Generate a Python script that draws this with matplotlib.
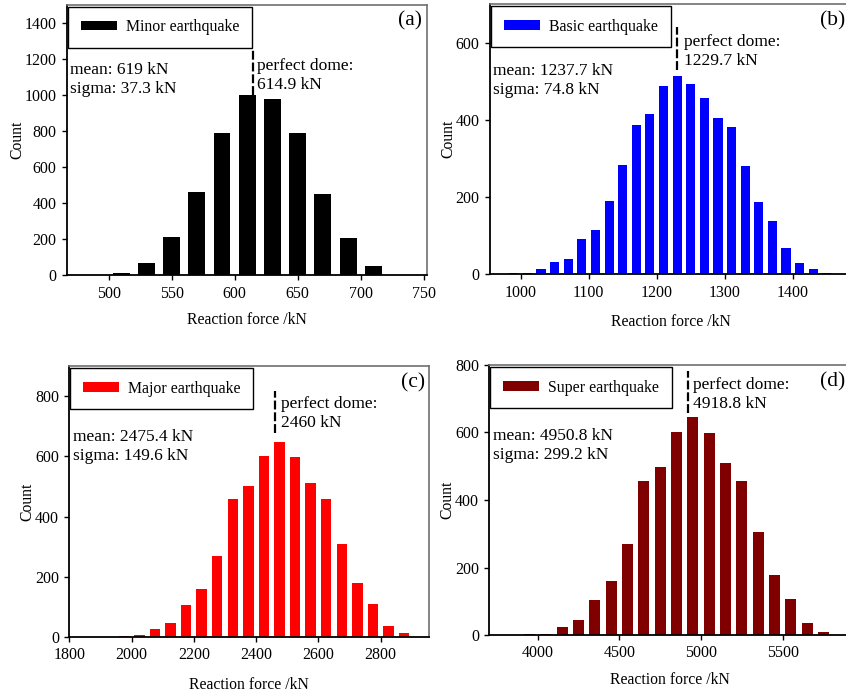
import matplotlib
matplotlib.use("Agg")
import matplotlib.pyplot as plt

plt.rcParams['font.family'] = ['Liberation Serif', 'DejaVu Serif']

# ---- histogram data (bin centres in kN, counts) ----
minor_centers = [490, 510, 530, 550, 570, 590, 610, 630, 650, 670, 690, 710, 730]
minor_counts = [0, 15, 68, 212, 460, 787, 1000, 977, 787, 449, 205, 51, 0]

basic_centers = [990, 1010, 1030, 1050, 1070, 1090, 1110, 1130, 1150, 1170, 1190, 1210,
                 1230, 1250, 1270, 1290, 1310, 1330, 1350, 1370, 1390, 1410, 1430, 1450]
basic_counts = [3, 3, 15, 31, 40, 91, 115, 189, 283, 386, 415, 488,
                513, 493, 457, 404, 381, 280, 186, 137, 68, 28, 15, 3]

major_centers = [1975, 2025, 2075, 2125, 2175, 2225, 2275, 2325, 2375, 2425,
                 2475, 2525, 2575, 2625, 2675, 2725, 2775, 2825, 2875]
major_counts = [2, 5, 25, 45, 106, 161, 269, 458, 500, 602,
                646, 597, 511, 458, 308, 180, 111, 35, 13]

super_centers = [3950, 4050, 4150, 4250, 4350, 4450, 4550, 4650, 4750, 4850,
                 4950, 5050, 5150, 5250, 5350, 5450, 5550, 5650, 5750]
super_counts = [2, 4, 24, 43, 104, 160, 269, 456, 499, 602,
                646, 598, 509, 456, 306, 178, 108, 35, 10]

labels = ["Minor earthquake", "Basic earthquake", "Major earthquake", "Super earthquake"]
tags = ["(a)", "(b)", "(c)", "(d)"]
colors = ["#000000", "#0000FF", "#FF0000", "#800000"]
bin_widths = [20, 20, 50, 100]

mean_txt = ["619", "1237.7", "2475.4", "4950.8"]
sigma_txt = ["37.3", "74.8", "149.6", "299.2"]
dome = [614.9, 1229.7, 2460, 4918.8]
dome_txt = ["614.9", "1229.7", "2460", "4918.8"]

xlims = [(467, 752.6), (955, 1487), (1800, 2955), (3704, 5912)]
ylims = [(0, 1500), (0, 700), (0, 900), (0, 800)]
xticks = [[500, 550, 600, 650, 700, 750], [1000, 1100, 1200, 1300, 1400],
          [1800, 2000, 2200, 2400, 2600, 2800], [4000, 4500, 5000, 5500]]
yticks = [[0, 200, 400, 600, 800, 1000, 1200, 1400], [0, 200, 400, 600],
          [0, 200, 400, 600, 800], [0, 200, 400, 600, 800]]

# vertical extent of the dashed "perfect dome" marker (data units)
dome_span = [(1000, 1248), (530, 641), (676, 818), (657, 782)]
# text anchor points: (x data, y axes-fraction)
dome_text_pos = [(618, 0.802), (1239.6, 0.888), (2480, 0.888), (4952, 0.957)]
stat_text_pos = [(469, 0.787), (959.4, 0.782), (1811, 0.767), (3728, 0.767)]
tag_x = [0.985, 0.981, 0.989, 0.986]
xlabel_pad = [7.6, 9.8, 9.8, 7.6]

positions = [
    [67 / 846, 1 - 275.3 / 695, 360 / 846, 270.6 / 695],
    [490 / 846, 1 - 274.3 / 695, 362 / 846, 270.3 / 695],
    [69.3 / 846, 1 - 637 / 695, 359.7 / 846, 271 / 695],
    [489.3 / 846, 1 - 635 / 695, 360.7 / 846, 270 / 695],
]

centers_all = [minor_centers, basic_centers, major_centers, super_centers]
counts_all = [minor_counts, basic_counts, major_counts, super_counts]

fig = plt.figure(figsize=(8.46, 6.95), dpi=100)

for i in range(4):
    ax = fig.add_axes(positions[i])
    ax.bar(centers_all[i], counts_all[i], width=bin_widths[i] * 0.67,
           color=colors[i], label=labels[i], linewidth=0)
    ax.set_xlim(*xlims[i])
    ax.set_ylim(*ylims[i])
    ax.set_xticks(xticks[i])
    ax.set_yticks(yticks[i])
    ax.tick_params(direction='out', length=3.5, width=1, labelsize=11.5, pad=4)
    ax.set_xlabel("Reaction force /kN", fontsize=11.3, labelpad=xlabel_pad[i])
    ax.set_ylabel("Count", fontsize=11.3, labelpad=-0.5)
    for s in ['left', 'bottom']:
        ax.spines[s].set_color('black')
        ax.spines[s].set_linewidth(1.3)
    for s in ['top', 'right']:
        ax.spines[s].set_color('#707070')
        ax.spines[s].set_linewidth(1.2)

    leg = ax.legend(loc='upper left', bbox_to_anchor=(0.003, 0.993),
                    borderaxespad=0, fancybox=False, edgecolor='black',
                    framealpha=1, fontsize=11.4, handlelength=2.3,
                    handleheight=0.55, handletextpad=0.55, borderpad=0.8)
    leg.get_frame().set_linewidth(1.0)

    ax.plot([dome[i], dome[i]], dome_span[i], color='black', lw=1.6,
            linestyle=(0, (4, 1.3)))
    tr = ax.get_xaxis_transform()
    ax.text(dome_text_pos[i][0], dome_text_pos[i][1],
            "perfect dome:\n" + dome_txt[i] + " kN", transform=tr,
            ha='left', va='top', fontsize=12.6, linespacing=1.25)
    ax.text(stat_text_pos[i][0], stat_text_pos[i][1],
            "mean: " + mean_txt[i] + " kN\nsigma: " + sigma_txt[i] + " kN",
            transform=tr, ha='left', va='top', fontsize=12.5, linespacing=1.25)
    ax.text(tag_x[i], 0.975, tags[i], transform=ax.transAxes, ha='right', va='top',
            fontsize=15.5)

fig.savefig("out.png", dpi=100)
